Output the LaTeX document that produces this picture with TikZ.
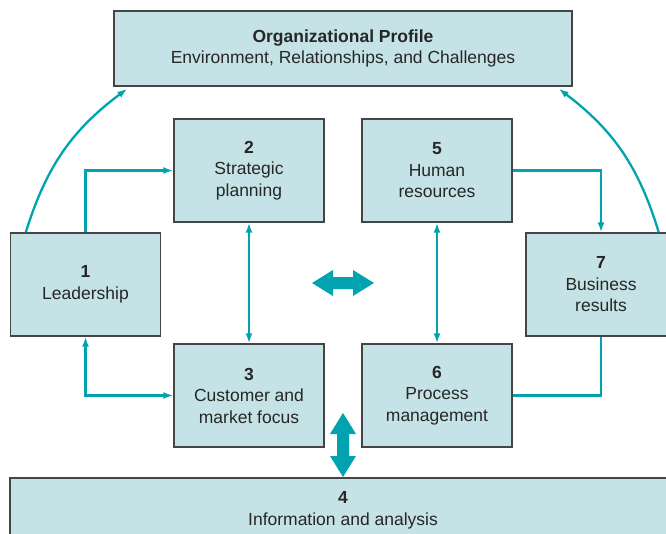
\documentclass[tikz,border=0pt]{standalone}
\usepackage{fontspec}
\setmainfont{Liberation Sans}
\usetikzlibrary{arrows.meta}
\definecolor{boxfill}{HTML}{C5E3E6}
\definecolor{tealc}{HTML}{00A3AF}
\definecolor{edgegray}{HTML}{454545}
\definecolor{txtgray}{HTML}{262626}
\begin{document}
\begin{tikzpicture}[x=1pt,y=-1pt,
  box/.style={draw=edgegray, line width=1.4pt, fill=boxfill, minimum width=150pt,
    minimum height=103pt, align=center, font=\fontsize{17.5}{21.5}\selectfont,
    text=txtgray, inner sep=0pt},
  conn/.style={draw=tealc, line width=2.3pt},
  tip/.style={-{Latex[length=10pt,width=7pt]}},
  tips/.style={{Latex[length=10pt,width=7pt]}-{Latex[length=10pt,width=7pt]}},
  blockarrow/.style={fill=tealc, draw=none},
]
\useasboundingbox (0,0) rectangle (666,533);

\node[box, minimum width=458pt, minimum height=75pt] (op) at (343,48.5)
  {\textbf{Organizational Profile}\\Environment, Relationships, and Challenges};
\node[box] (b1) at (85.5,284.5) {\textbf{1}\\Leadership};
\node[box] (b2) at (249,170.5) {\textbf{2}\\Strategic\\planning};
\node[box] (b5) at (437,170.5) {\textbf{5}\\Human\\resources};
\node[box] (b7) at (601,284.5) {\textbf{7}\\Business\\results};
\node[box] (b3) at (249,395.5) {\textbf{3}\\Customer and\\market focus};
\node[box] (b6) at (437,395.5) {\textbf{6}\\Process\\management};
\node[box, minimum width=666pt, minimum height=67pt, text depth=6pt] (b4) at (343,511.5)
  {\textbf{4}\\Information and analysis};

% connectors
\draw[conn, tip] (b1.north) |- (b2.west);
\draw[conn, tips] (b3.west) -| (b1.south);
\draw[conn, tip] (b5.east) -| (b7.north);
\draw[conn] (b7.south) |- (b6.east);
\draw[conn, tips] (b2.south) -- (b3.north);
\draw[conn, tips] (b5.south) -- (b6.north);
\draw[conn, tip] ([xshift=16pt]b1.north west) to[bend left=18] ([xshift=14pt,yshift=-2pt]op.south west);
\draw[conn, tip] ([xshift=-18pt]b7.north east) to[bend right=18] ([xshift=-14pt,yshift=-2pt]op.south east);

% block arrows
\fill[blockarrow] (312,283) -- (333,270) -- (333,277) -- (353,277) -- (353,270) -- (374,283)
  -- (353,296) -- (353,289) -- (333,289) -- (333,296) -- cycle;
\fill[blockarrow] (343,413) -- (356,434) -- (349,434) -- (349,456) -- (356,456) -- (343,477)
  -- (330,456) -- (337,456) -- (337,434) -- (330,434) -- cycle;
\end{tikzpicture}
\end{document}
